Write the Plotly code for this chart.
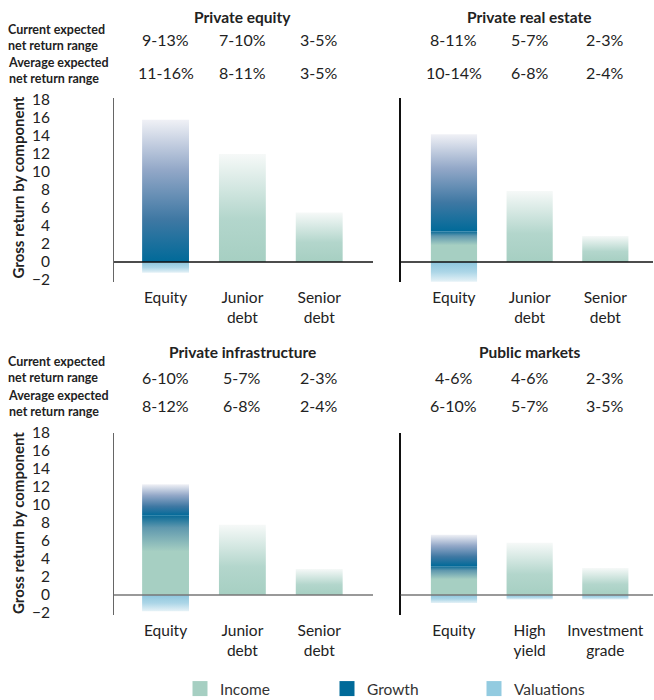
import plotly.graph_objects as go

# ---------------- data ----------------
panel_titles = ["Private equity", "Private real estate", "Private infrastructure", "Public markets"]

categories_private = ["Equity", "Junior<br>debt", "Senior<br>debt"]
categories_public = ["Equity", "High<br>yield", "Investment<br>grade"]

pe_income = [0.0, 12.0, 5.5]
pe_growth = [15.8, 0.0, 0.0]
pe_valuations = [-1.2, 0.0, 0.0]

re_income = [3.4, 7.9, 2.9]
re_growth = [10.8, 0.0, 0.0]
re_valuations = [-2.2, 0.0, 0.0]

infra_income = [8.8, 7.8, 2.9]
infra_growth = [3.5, 0.0, 0.0]
infra_valuations = [-1.8, 0.0, 0.0]

pub_income = [3.2, 5.8, 3.0]
pub_growth = [3.5, 0.0, 0.0]
pub_valuations = [-0.9, -0.5, -0.5]

pe_current = ["9-13%", "7-10%", "3-5%"]
pe_average = ["11-16%", "8-11%", "3-5%"]
re_current = ["8-11%", "5-7%", "2-3%"]
re_average = ["10-14%", "6-8%", "2-4%"]
infra_current = ["6-10%", "5-7%", "2-3%"]
infra_average = ["8-12%", "6-8%", "2-4%"]
pub_current = ["4-6%", "4-6%", "2-3%"]
pub_average = ["6-10%", "5-7%", "3-5%"]

y_ticks = [-2, 0, 2, 4, 6, 8, 10, 12, 14, 16, 18]

# ---------------- style ----------------
FONT = "Lato"
TXT = "#222222"
GREEN = "#a6cfc2"
BLUE = "#006a99"
LIGHT = "#93cbe0"
BAR_W = 0.61

growth_scale = [[0, "#006a99"], [0.3, "#3f78a3"], [0.65, "#93a8c8"], [1, "#f0f1f6"]]
income_fade = [[0, GREEN], [0.4, "#b3d6cc"], [1, "#f6f9f8"]]
income_into_growth = [[0, GREEN], [0.55, GREEN], [0.85, "#5f98ae"], [1, "#0b6b97"]]
valuation_scale = [[0, "#e6f2f7"], [0.5, "#acd6e7"], [1, "#8ec6dd"]]

panels = [
    dict(title=panel_titles[0], cats=categories_private, inc=pe_income, gro=pe_growth,
         val=pe_valuations, cur=pe_current, avg=pe_average, xa="x", ya="y"),
    dict(title=panel_titles[1], cats=categories_private, inc=re_income, gro=re_growth,
         val=re_valuations, cur=re_current, avg=re_average, xa="x2", ya="y2"),
    dict(title=panel_titles[2], cats=categories_private, inc=infra_income, gro=infra_growth,
         val=infra_valuations, cur=infra_current, avg=infra_average, xa="x3", ya="y3"),
    dict(title=panel_titles[3], cats=categories_public, inc=pub_income, gro=pub_growth,
         val=pub_valuations, cur=pub_current, avg=pub_average, xa="x4", ya="y4"),
]

fig = go.Figure()


def add_rect(xc, y0, y1, scale, xa, ya):
    lo, hi = min(y0, y1), max(y0, y1)
    fig.add_trace(go.Scatter(
        x=[xc - BAR_W / 2, xc + BAR_W / 2, xc + BAR_W / 2, xc - BAR_W / 2, xc - BAR_W / 2],
        y=[lo, lo, hi, hi, lo],
        mode="lines", line=dict(width=0), fill="toself",
        fillgradient=dict(type="vertical", colorscale=scale, start=lo, stop=hi),
        hoverinfo="skip", showlegend=False, xaxis=xa, yaxis=ya))


for p in panels:
    for i in range(3):
        inc, gro, val = p["inc"][i], p["gro"][i], p["val"][i]
        if inc > 0:
            add_rect(i, 0, inc, income_into_growth if gro > 0 else income_fade, p["xa"], p["ya"])
        if gro > 0:
            add_rect(i, inc, inc + gro, growth_scale, p["xa"], p["ya"])
        if val < 0:
            add_rect(i, val, 0, valuation_scale, p["xa"], p["ya"])

# legend entries
for name, col in [("Income", GREEN), ("Growth", BLUE), ("Valuations", LIGHT)]:
    fig.add_trace(go.Scatter(x=[None], y=[None], mode="markers", name=name,
                             marker=dict(symbol="square", size=15, color=col),
                             xaxis="x", yaxis="y"))

W, H = 654, 700
def px(x):
    return x / W
def py(y):
    return 1 - y / H

left_dom = [px(114), px(373)]
right_dom = [px(400.7), px(653)]
top_dom = [py(282), py(98)]
bot_dom = [py(615), py(433)]

xcommon = dict(showgrid=False, zeroline=False, showline=False, ticks="",
               tickvals=[0, 1, 2], tickfont=dict(family=FONT, size=15.5, color=TXT),
               ticklabelstandoff=4, fixedrange=True)
ycommon = dict(showgrid=False, zeroline=False, showline=True, ticks="",
               tickvals=y_ticks, fixedrange=True,
               tickfont=dict(family=FONT, size=15.5, color=TXT))

fig.update_layout(
    width=W, height=H, margin=dict(l=0, r=0, t=0, b=0, autoexpand=False),
    paper_bgcolor="white", plot_bgcolor="white",
    font=dict(family=FONT, color=TXT),
    xaxis=dict(domain=left_dom, range=[-0.671, 2.70], ticktext=categories_private, anchor="y", **xcommon),
    xaxis2=dict(domain=right_dom, range=[-0.704, 2.63], ticktext=categories_private, anchor="y2", **xcommon),
    xaxis3=dict(domain=left_dom, range=[-0.671, 2.70], ticktext=categories_private, anchor="y3", **xcommon),
    xaxis4=dict(domain=right_dom, range=[-0.704, 2.63], ticktext=categories_public, anchor="y4", **xcommon),
    yaxis=dict(domain=top_dom, range=[-2.22, 18.22], anchor="x", linecolor="#666666", linewidth=1,
               showticklabels=True, ticklabelstandoff=60, **ycommon),
    yaxis2=dict(domain=top_dom, range=[-2.22, 18.22], anchor="x2", linecolor="#111111", linewidth=1.5,
                showticklabels=False, **ycommon),
    yaxis3=dict(domain=bot_dom, range=[-2.22, 18.0], anchor="x3", linecolor="#666666", linewidth=1,
                showticklabels=True, ticklabelstandoff=60, **ycommon),
    yaxis4=dict(domain=bot_dom, range=[-2.22, 18.0], anchor="x4", linecolor="#111111", linewidth=1.5,
                showticklabels=False, **ycommon),
    legend=dict(orientation="h", x=px(180), xanchor="left", y=py(689), yanchor="middle",
                entrywidth=102, entrywidthmode="pixels", tracegroupgap=0,
                font=dict(family=FONT, size=15.5, color="#333333"), itemclick=False),
    showlegend=True,
)

# zero lines (drawn above bars)
zl = [("x", "y", "#111111"), ("x2", "y2", "#111111"), ("x3", "y3", "#777777"), ("x4", "y4", "#777777")]
for xa, ya, c in zl:
    fig.add_shape(type="line", xref=f"{xa} domain", yref=ya, x0=0, x1=1, y0=0, y1=0,
                  line=dict(color=c, width=1.5), layer="above")

ann = []
title_y = [py(17), py(17), py(352), py(352)]
cur_y = [py(39), py(39), py(377), py(377)]
avg_y = [py(72), py(72), py(405), py(405)]
for k, p in enumerate(panels):
    ann.append(dict(text=f"<b>{p['title']}</b>", xref=p["xa"], x=1, yref="paper", y=title_y[k],
                    showarrow=False, xanchor="center", yanchor="middle",
                    font=dict(family=FONT, size=15.5, color=TXT)))
    for i in range(3):
        ann.append(dict(text=p["cur"][i], xref=p["xa"], x=i, yref="paper", y=cur_y[k],
                        showarrow=False, xanchor="center", yanchor="middle",
                        font=dict(family=FONT, size=16, color=TXT)))
        ann.append(dict(text=p["avg"][i], xref=p["xa"], x=i, yref="paper", y=avg_y[k],
                        showarrow=False, xanchor="center", yanchor="middle",
                        font=dict(family=FONT, size=16, color=TXT)))

row_labels = [("Current expected<br>net return range", 37.5, 369.5),
              ("Average expected<br>net return range", 70.5, 403)]
for txt, y_top, y_bot in row_labels:
    for yc in (y_top, y_bot):
        ann.append(dict(text=f"<b>{txt}</b>", xref="paper", x=px(7),
                        yref="paper", y=py(yc), showarrow=False, xanchor="left", yanchor="middle",
                        align="left", borderpad=0,
                        font=dict(family=FONT, size=12.5, color=TXT)))

for yc in [187.5, 523]:
    ann.append(dict(text="<b>Gross return by component</b>", xref="paper", x=px(18),
                    yref="paper", y=py(yc), showarrow=False, textangle=-90,
                    xanchor="center", yanchor="middle",
                    font=dict(family=FONT, size=15, color=TXT)))

fig.update_layout(annotations=ann)
fig.write_html("out.html")
